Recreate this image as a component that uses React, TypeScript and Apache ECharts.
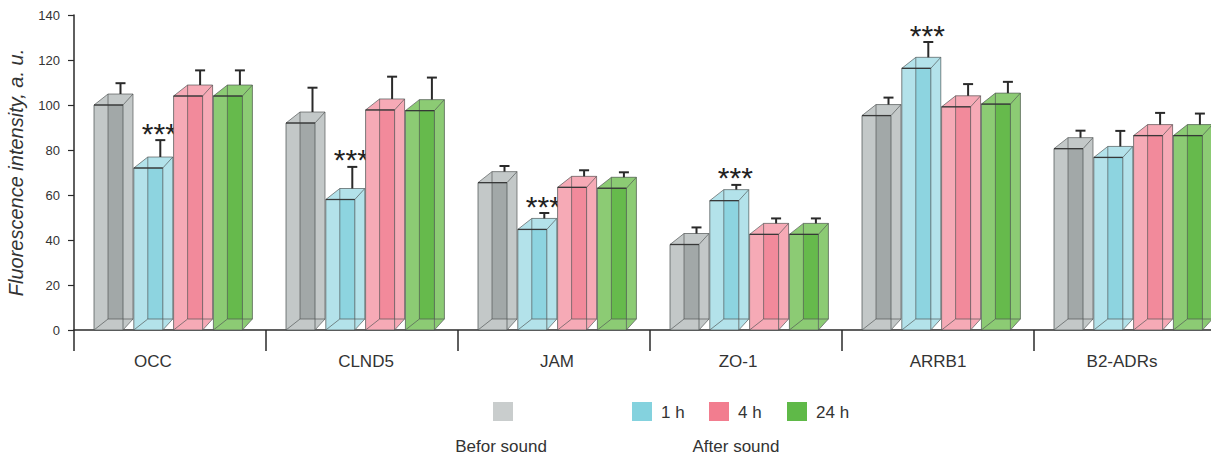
import React, { useEffect, useRef } from "react";
import * as echarts from "echarts";

const categories = ["OCC", "CLND5", "JAM", "ZO-1", "ARRB1", "B2-ADRs"];
const seriesNames = ["Befor sound", "1 h", "4 h", "24 h"];
const beforeValues = [100, 92, 65.5, 38, 95.3, 80.6];
const h1Values = [72, 58, 44.7, 57.5, 116.3, 76.7];
const h4Values = [104, 97.8, 63.4, 42.5, 99.2, 86.4];
const h24Values = [104, 97.5, 63, 42.5, 100.4, 86.4];
const beforeErr = [4.8, 10.8, 2.5, 2.7, 3.1, 3.1];
const h1Err = [7.5, 9.6, 2.4, 2.1, 6.8, 6.9];
const h4Err = [6.5, 9.9, 2.7, 2.2, 5.2, 5.2];
const h24Err = [6.5, 9.8, 2.2, 2.2, 5.0, 4.9];
const h1Significant = [1, 1, 1, 1, 1, 0];
const noSignificance = [0, 0, 0, 0, 0, 0];

// style-only: horizontal nudges of category labels (px)
const labelNudge = [-17, 4, 3, -8, 0, -8];

const palette = [
  { light: "#c3c8c8", dark: "#a2a8a8", legend: "#c9cdcd" },
  { light: "#b3e2ea", dark: "#8dd4e0", legend: "#84d2de" },
  { light: "#f6aab6", dark: "#f28a9b", legend: "#f27d8f" },
  { light: "#8ccb74", dark: "#66ba4c", legend: "#5fb948" },
];

const FONT = '"Liberation Sans", Arial, Helvetica, sans-serif';
const EDGE = "rgba(80,85,85,0.75)";

function makeRender(k: number) {
  return (params: any, api: any) => {
    const i = api.value(0);
    const v = api.value(1);
    const err = api.value(2);
    const sig = api.value(3);
    const top = api.coord([i, v]);
    const cx = top[0];
    const yT = top[1];
    const yB = api.coord([i, 0])[1];
    const band = api.size([1, 0])[0];
    const s = band / 192;
    const x0 = cx - 76 * s + k * 39.8 * s;
    const x1 = x0 + 29 * s;
    const dxL = 14 * s;
    const dxR = 10 * s;
    const dy = -11;
    const bx0 = x0 + dxL;
    const bx1 = x1 + dxR;
    const byT = yT + dy;
    const byB = yB + dy;
    const c = palette[k];
    const fillPoly = (pts: number[][], fill: string) => ({
      type: "polygon",
      shape: { points: pts },
      style: { fill, stroke: "none" },
    });
    const line = (pts: number[][], w = 1, col = EDGE) => ({
      type: "polyline",
      shape: { points: pts },
      style: { stroke: col, lineWidth: w, fill: "none" },
    });
    const capY = api.coord([i, v + err])[1] + dy;
    const ex = (bx0 + bx1) / 2;
    const children: any[] = [
      fillPoly([[bx0, byT], [bx1, byT], [bx1, byB], [bx0, byB]], c.light),
      fillPoly([[x0, yT], [x1, yT], [bx1, byT], [bx0, byT]], c.light),
      fillPoly([[x1, yT], [bx1, byT], [bx1, byB], [x1, yB]], c.light),
      fillPoly([[x0, yT], [x1, yT], [x1, yB], [x0, yB]], c.light),
      fillPoly([[bx0, yT], [x1, yT], [x1, byB], [bx0, byB]], c.dark),
      line([[bx0, byT], [bx1, byT], [bx1, byB], [bx0, byB], [bx0, byT]], 0.9),
      line([[x0, yT], [bx0, byT]], 0.9),
      line([[x1, yT], [bx1, byT]], 0.9),
      line([[x1, yB], [bx1, byB]], 0.9),
      line([[x0, yB], [bx0, byB]], 0.9),
      line([[x0, yT], [x1, yT], [x1, yB], [x0, yB], [x0, yT]], 1),
      line([[x0, yT], [x1, yT]], 1.3, "rgba(50,50,50,0.9)"),
      line([[ex, byT], [ex, capY]], 2, "#2a2a2a"),
      line([[ex - 5, capY], [ex + 5, capY]], 2, "#2a2a2a"),
    ];
    if (sig) {
      children.push({
        type: "text",
        style: {
          text: "***",
          x: ex - 1,
          y: capY - 7,
          align: "center",
          verticalAlign: "middle",
          font: `30px ${FONT}`,
          fill: "#222",
        },
      });
    }
    return { type: "group", children };
  };
}

const valueSets = [beforeValues, h1Values, h4Values, h24Values];
const errSets = [beforeErr, h1Err, h4Err, h24Err];
const sigSets = [noSignificance, h1Significant, noSignificance, noSignificance];

export default function App() {
  const ref = useRef<HTMLDivElement>(null);
  useEffect(() => {
    if (!ref.current) return;
    const chart = echarts.init(ref.current, undefined, { renderer: "svg" });
    const series = seriesNames.map((name, k) => ({
      type: "custom",
      name,
      renderItem: makeRender(k),
      clip: false,
      encode: { x: 0, y: 1 },
      data: valueSets[k].map((v, i) => [i, v, errSets[k][i], sigSets[k][i]]),
    }));
    const legendItems = [
      { x: 493, color: palette[0].legend, label: "" },
      { x: 632, color: palette[1].legend, label: seriesNames[1] },
      { x: 709, color: palette[2].legend, label: seriesNames[2] },
      { x: 787, color: palette[3].legend, label: seriesNames[3] },
    ];
    const graphic: any[] = [];
    legendItems.forEach((it) => {
      graphic.push({
        type: "rect",
        shape: { x: it.x, y: 402, width: 20, height: 19 },
        style: { fill: it.color },
      });
      if (it.label) {
        graphic.push({
          type: "text",
          style: {
            text: it.label,
            x: it.x + 29,
            y: 412,
            verticalAlign: "middle",
            font: `17px ${FONT}`,
            fill: "#333",
          },
        });
      }
    });
    graphic.push({
      type: "text",
      style: { text: "Befor sound", x: 501, y: 446, align: "center", verticalAlign: "middle", font: `17px ${FONT}`, fill: "#333" },
    });
    graphic.push({
      type: "text",
      style: { text: "After sound", x: 736, y: 446, align: "center", verticalAlign: "middle", font: `17px ${FONT}`, fill: "#333" },
    });
    chart.setOption({
      animation: false,
      grid: { left: 74, right: -15, top: 15, bottom: 124, containLabel: false, outerBoundsMode: "none" },
      xAxis: {
        type: "category",
        data: categories.map((c, i) => ({
          value: c,
          textStyle: {
            padding: labelNudge[i] < 0 ? [0, -2 * labelNudge[i], 0, 0] : [0, 0, 0, 2 * labelNudge[i]],
          },
        })),
        boundaryGap: true,
        axisLine: { show: true, lineStyle: { color: "#2a2a2a", width: 1.5 } },
        axisTick: { show: true, length: 21, interval: 0, lineStyle: { color: "#2a2a2a", width: 1.5 } },
        axisLabel: { margin: 23, fontSize: 17, fontFamily: FONT, color: "#333", interval: 0 },
        splitLine: { show: false },
      },
      yAxis: {
        type: "value",
        min: 0,
        max: 140,
        interval: 20,
        name: "Fluorescence intensity, a. u.",
        nameLocation: "middle",
        nameGap: 48,
        nameTextStyle: { fontSize: 20, fontStyle: "italic", fontFamily: FONT, color: "#333" },
        axisLine: { show: true, lineStyle: { color: "#2a2a2a", width: 1.5 } },
        axisTick: { show: true, length: 6, lineStyle: { color: "#2a2a2a", width: 1.2 } },
        axisLabel: { margin: 14, fontSize: 13, fontFamily: FONT, color: "#333" },
        splitLine: { show: false },
      },
      series,
      graphic,
    });
    return () => chart.dispose();
  }, []);
  return (
    <div
      ref={ref}
      style={{ position: "fixed", left: 0, top: 0, width: 1211, height: 454, background: "#fff" }}
    />
  );
}
